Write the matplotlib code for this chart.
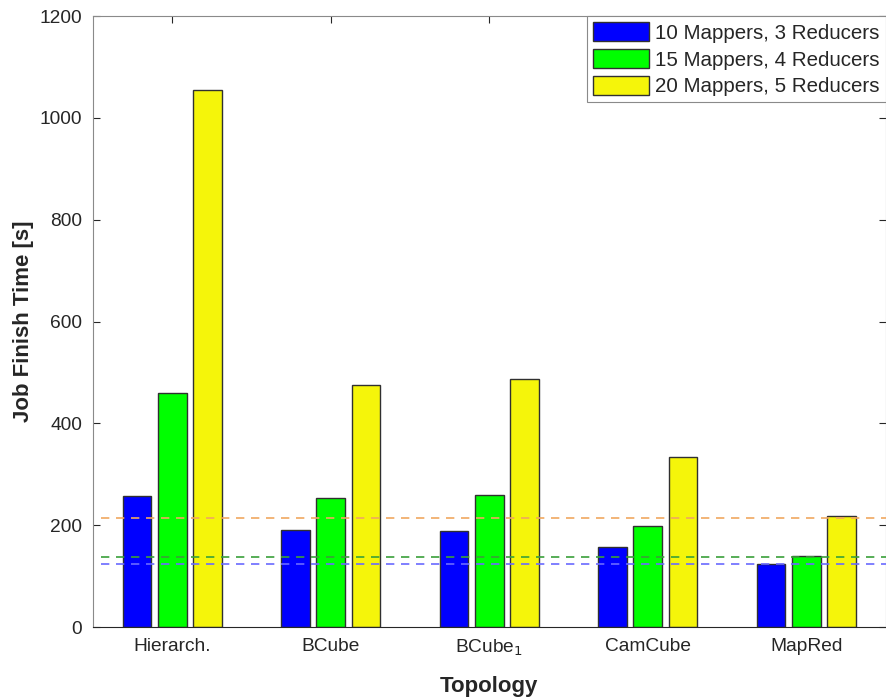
import matplotlib
matplotlib.use("Agg")
import matplotlib.pyplot as plt
import numpy as np

plt.rcParams['font.family'] = ['Liberation Sans', 'DejaVu Sans']

topologies = ['Hierarch.', 'BCube', 'BCube$_1$', 'CamCube', 'MapRed']
configs = ['10 Mappers, 3 Reducers', '15 Mappers, 4 Reducers', '20 Mappers, 5 Reducers']

# job finish times [s] per config, one entry per topology
t_10_3 = [258, 190, 188, 157, 124]
t_15_4 = [460, 253, 259, 199, 139]
t_20_5 = [1055, 475, 487, 334, 218]

# reference levels (dashed)
ref_times = [123, 137, 215]

bar_colors = ['#0000ff', '#00ff00', '#f5f50a']
ref_colors = ['#6a6aff', '#3aa03a', '#f0a860']

fig = plt.figure(figsize=(8.86, 6.99), dpi=100)
ax = fig.add_axes([0.105, 0.103, 0.8945, 0.874])

x = np.arange(1, len(topologies) + 1)
offset = 0.2225
width = 0.181
series = [t_10_3, t_15_4, t_20_5]
for i, (vals, col, lab) in enumerate(zip(series, bar_colors, configs)):
    ax.bar(x + (i - 1) * offset, vals, width, color=col, edgecolor='#303030',
           linewidth=1.0, label=lab, zorder=2)

for val, col in zip(ref_times, ref_colors):
    ax.plot([0.55, 5.5], [val, val], '--', color=col, linewidth=1.2,
            dashes=(5, 4), zorder=3)

ax.set_xlim(0.5, 5.5)
ax.set_ylim(0, 1200)
ax.set_yticks(np.arange(0, 1201, 200))
ax.set_xticks(x)
ax.set_xticklabels(topologies)
ax.set_axisbelow(True)
ax.tick_params(direction='in', top=True, right=True, length=5, width=0.8,
               colors='#262626', labelsize=13.8, pad=8)
for s in ax.spines.values():
    s.set_color('#262626')
    s.set_linewidth(0.8)
for s in ['left', 'top', 'right']:
    ax.spines[s].set_color('#8a8a8a')

ax.set_xlabel('Topology', fontsize=16, fontweight='bold', color='#262626', labelpad=13)
ax.set_ylabel('Job Finish Time [s]', fontsize=16, fontweight='bold', color='#262626', labelpad=4)

leg = ax.legend(loc='upper right', fontsize=14.8, fancybox=False, framealpha=1,
                edgecolor='#8a8a8a', handlelength=2.7, handleheight=1.05,
                labelspacing=0.3, handletextpad=0.3, borderaxespad=0,
                borderpad=0.3)
leg.get_frame().set_linewidth(0.8)
for t in leg.get_texts():
    t.set_color('#262626')

fig.savefig('out.png', dpi=100)
